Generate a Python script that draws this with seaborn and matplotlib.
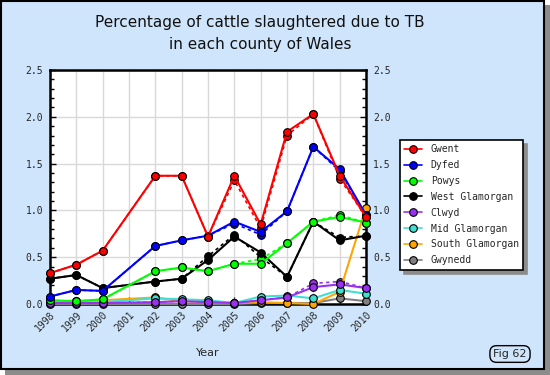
import numpy as np
import pandas as pd
import matplotlib
matplotlib.use("Agg")
import matplotlib.pyplot as plt
import seaborn as sns
from matplotlib.lines import Line2D
from matplotlib.patches import Rectangle
from matplotlib.ticker import MultipleLocator, FormatStrFormatter

nan = np.nan
years = [1998, 1999, 2000, 2001, 2002, 2003, 2004, 2005, 2006, 2007, 2008, 2009, 2010]
counties = ["Gwent", "Dyfed", "Powys", "West Glamorgan", "Clwyd",
            "Mid Glamorgan", "South Glamorgan", "Gwynedd"]
colors = ["#FF0000", "#0000FF", "#00FF00", "#000000", "#9A30F0",
          "#40E0D0", "#FFA500", "#808080"]

gwent = [0.33, 0.42, 0.57, nan, 1.37, 1.37, 0.72, 1.37, 0.85, 1.84, 2.03, 1.37, 0.93]
dyfed = [0.08, 0.15, 0.14, nan, 0.62, 0.68, 0.73, 0.88, 0.77, 0.99, 1.68, 1.44, 0.95]
powys = [0.04, 0.03, 0.05, nan, 0.35, 0.39, 0.35, 0.43, 0.43, 0.65, 0.88, 0.93, 0.87]
west_glamorgan = [0.27, 0.31, 0.17, nan, 0.24, 0.27, 0.47, 0.72, 0.55, 0.29, 0.88, 0.68, 0.73]
clwyd = [0.01, 0.01, 0.01, nan, 0.02, 0.03, 0.02, 0.01, 0.04, 0.07, 0.18, 0.21, 0.17]
mid_glamorgan = [0.03, 0.02, 0.02, nan, 0.06, 0.05, 0.04, 0.01, 0.08, 0.09, 0.06, 0.15, 0.11]
south_glamorgan = [0.02, 0.03, 0.04, nan, 0.07, 0.03, 0.02, 0.01, 0.02, 0.01, 0.00, 0.13, 1.03]
gwynedd = [0.00, 0.00, 0.00, nan, 0.00, 0.00, 0.00, 0.00, 0.01, 0.01, 0.01, 0.06, 0.03]

# second (dashed) estimate series
gwent_alt = [0.33, 0.42, 0.57, nan, 1.37, 1.37, 0.72, 1.32, 0.81, 1.80, 2.03, 1.34, 0.93]
dyfed_alt = [0.08, 0.15, 0.14, nan, 0.62, 0.68, 0.73, 0.86, 0.74, 0.99, 1.68, 1.42, 0.95]
powys_alt = [0.04, 0.03, 0.05, nan, 0.35, 0.39, 0.35, 0.43, 0.48, 0.65, 0.88, 0.95, 0.87]
west_glamorgan_alt = [0.27, 0.31, 0.17, nan, 0.24, 0.27, 0.51, 0.74, 0.50, 0.29, 0.88, 0.71, 0.73]
clwyd_alt = [0.01, 0.01, 0.01, nan, 0.02, 0.03, 0.02, 0.01, 0.04, 0.07, 0.22, 0.24, 0.17]

solid = [gwent, dyfed, powys, west_glamorgan, clwyd, mid_glamorgan, south_glamorgan, gwynedd]
dashed = {"Gwent": gwent_alt, "Dyfed": dyfed_alt, "Powys": powys_alt,
          "West Glamorgan": west_glamorgan_alt, "Clwyd": clwyd_alt}

rows = []
for name, vals in zip(counties, solid):
    for y, v in zip(years, vals):
        rows.append((name, "main", y, v))
for name, vals in dashed.items():
    for y, v in zip(years, vals):
        rows.append((name, "alt", y, v))
df = pd.DataFrame(rows, columns=["county", "source", "year", "value"]).dropna()

sns.set_style("white")
plt.rcParams["font.family"] = ["DejaVu Sans"]
BG = "#CFE5FC"

fig = plt.figure(figsize=(5.5, 3.75), dpi=100)
fig.patch.set_facecolor("white")
# shadow + background frame
fig.patches.append(Rectangle((5 / 550, 0), 545 / 550, 370 / 375, transform=fig.transFigure,
                             facecolor="#8C8C8C", edgecolor="none", zorder=-3))
fig.patches.append(Rectangle((1 / 550, 6 / 375), 543 / 550, 368 / 375, transform=fig.transFigure,
                             facecolor=BG, edgecolor="black", linewidth=1.5, zorder=-2))

ax = fig.add_axes([50 / 550, 1 - 304 / 375, 316 / 550, 234 / 375])
ax.set_facecolor("white")

cmap = dict(zip(counties, colors))
for name in reversed(counties):
    sub = df[(df.county == name) & (df.source == "alt")]
    if len(sub):
        sns.lineplot(data=sub, x="year", y="value", ax=ax, color=cmap[name],
                     linestyle=(0, (2, 2)), linewidth=1.2, marker="o", markersize=5.5,
                     markeredgecolor="black", markeredgewidth=0.8, legend=False,
                     clip_on=False, zorder=3)
    sub = df[(df.county == name) & (df.source == "main")]
    sns.lineplot(data=sub, x="year", y="value", ax=ax, color=cmap[name],
                 linewidth=1.5, marker="o", markersize=5.5,
                 markeredgecolor="black", markeredgewidth=0.8, legend=False,
                 clip_on=False, zorder=4)

ax.set_xlim(1998, 2010)
ax.set_ylim(0, 2.5)
ax.set_xticks(years)
ax.set_xticklabels([str(y) for y in years], rotation=45, ha="right",
                   rotation_mode="anchor", family="DejaVu Sans Mono", fontsize=7)
ax.yaxis.set_major_locator(MultipleLocator(0.5))
ax.yaxis.set_minor_locator(MultipleLocator(0.1))
ax.yaxis.set_major_formatter(FormatStrFormatter("%.1f"))
ax.tick_params(axis="y", which="both", left=True, right=True, labelleft=True,
               labelright=True, direction="in", color="black", labelsize=7)
ax.tick_params(axis="y", which="major", length=4, width=1, pad=5)
ax.tick_params(axis="y", which="minor", length=3, width=1)
ax.tick_params(axis="x", which="major", bottom=True, direction="in", length=5, width=1, pad=4)
for lab in ax.yaxis.get_ticklabels():
    lab.set_family("DejaVu Sans Mono")
ax.grid(True, which="major", color="#D9D9D9", linewidth=1)
ax.set_axisbelow(True)
for s in ax.spines.values():
    s.set_visible(True)
    s.set_color("black")
    s.set_linewidth(1.8)
ax.set_xlabel("")
ax.set_ylabel("")

fig.text(208 / 550, 1 - 353 / 375, "Year", ha="center", va="center", fontsize=8)
fig.text(260 / 550, 1 - 22 / 375, "Percentage of cattle slaughtered due to TB",
         ha="center", va="center", fontsize=11, color="#111111")
fig.text(260 / 550, 1 - 45 / 375, "in each county of Wales",
         ha="center", va="center", fontsize=11, color="#111111")

handles = [Line2D([0], [0], color=c, linewidth=1.2, marker="o", markersize=5.5,
                  markeredgecolor="black", markeredgewidth=0.8) for c in colors]
leg = fig.legend(handles, counties, loc="upper left",
                 bbox_to_anchor=(400 / 550, 1 - 140 / 375), borderaxespad=0,
                 prop={"family": "DejaVu Sans Mono", "size": 7},
                 frameon=True, fancybox=False, edgecolor="black", facecolor="white",
                 framealpha=1, borderpad=0.45, labelspacing=0.6, handlelength=1.8,
                 handletextpad=0.9,
                 shadow={"ox": 3, "oy": -3, "facecolor": "#8C8C8C",
                         "edgecolor": "#8C8C8C", "alpha": 1})
leg.get_frame().set_linewidth(1.2)

fig.text(510 / 550, 1 - 354 / 375, "Fig 62", ha="center", va="center", fontsize=8,
         bbox=dict(boxstyle="round,pad=0.3,rounding_size=0.6", facecolor="none",
                   edgecolor="black", linewidth=1))

fig.savefig("out.png", dpi=100, facecolor=fig.get_facecolor())
